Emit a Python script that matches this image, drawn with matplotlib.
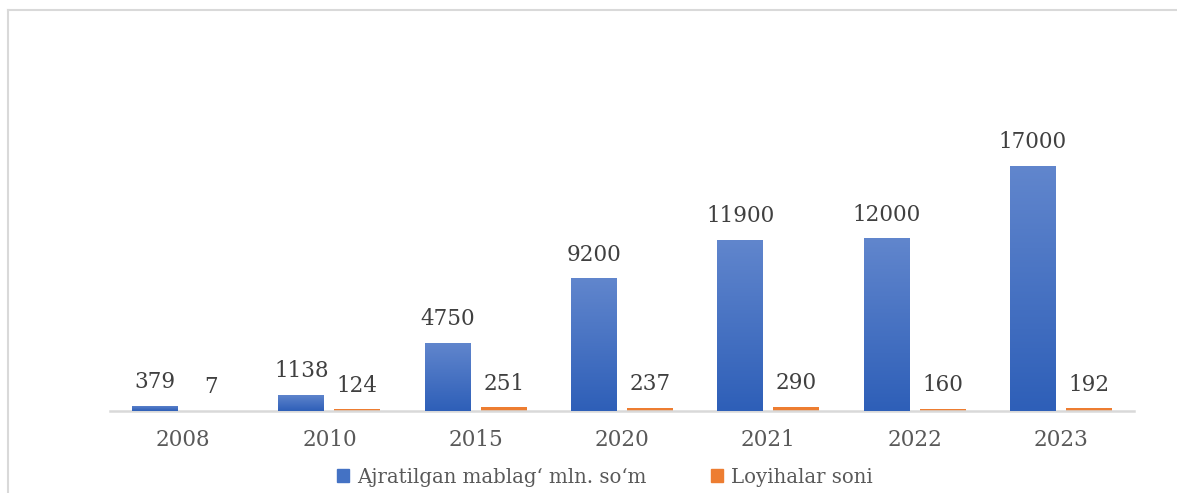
import numpy as np
import matplotlib.pyplot as plt
from matplotlib.lines import Line2D
from matplotlib.colors import LinearSegmentedColormap

years = ['2008', '2010', '2015', '2020', '2021', '2022', '2023']
funds = [379, 1138, 4750, 9200, 11900, 12000, 17000]
projects = [7, 124, 251, 237, 290, 160, 192]
funds_label = 'Ajratilgan mablag‘ mln. so‘m'
projects_label = 'Loyihalar soni'

W, H = 1177, 493
fig = plt.figure(figsize=(W / 100, H / 100), dpi=100)
plt.rcParams['font.family'] = ['DejaVu Serif']

# plot area in pixels: x 110..1134, baseline at y=411
ax = fig.add_axes([110 / W, (H - 411) / H, (1134 - 110) / W, 381 / H])
ymax = 381 * 17000 / 245

x = np.arange(len(years))
bw = 46 / 146.3
off = 28 / 146.3

blue_bars = ax.bar(x - off, funds, bw, color='#4472C4', zorder=2)
orange_bars = ax.bar(x + off, projects, bw, color='#ED7D31', zorder=2)

# vertical gradient on the blue bars
grad = np.linspace(0, 1, 256).reshape(-1, 1)
cmap = LinearSegmentedColormap.from_list('g', ['#2E5FB8', '#6186CD'])
for b in blue_bars:
    im = ax.imshow(grad, cmap=cmap, origin='lower', aspect='auto',
                   extent=[b.get_x(), b.get_x() + b.get_width(), 0, b.get_height()],
                   zorder=3)
    im.set_clip_path(b)
ax.set_xlim(-0.5, len(years) - 0.5)
ax.set_ylim(0, ymax)

txt = '#404040'
for i in range(len(years)):
    ax.annotate(str(funds[i]), (x[i] - off, funds[i]), xytext=(0, 9),
                textcoords='offset points', ha='center', va='bottom',
                fontsize=15.5, color=txt)
    ax.annotate(str(projects[i]), (x[i] + off, projects[i]), xytext=(0, 9),
                textcoords='offset points', ha='center', va='bottom',
                fontsize=15.5, color=txt)

for s in ['top', 'right', 'left']:
    ax.spines[s].set_visible(False)
ax.spines['bottom'].set_color('#d9d9d9')
ax.spines['bottom'].set_linewidth(1.8)
ax.set_yticks([])
ax.set_xticks(x)
ax.set_xticklabels(years, fontsize=15.5, color='#595959')
ax.tick_params(axis='x', length=0, pad=13)

handles = [plt.Rectangle((0, 0), 1, 1, color='#4472C4'),
           plt.Rectangle((0, 0), 1, 1, color='#ED7D31')]
fig.legend(handles, [funds_label, projects_label], loc='center',
           bbox_to_anchor=(605 / W, 1 - 477 / H), ncol=2, frameon=False,
           fontsize=14.2, handlelength=0.6, handleheight=0.6, handletextpad=0.4,
           columnspacing=3.3, labelcolor='#595959')

# chart border (top and left edges visible)
fig.add_artist(Line2D([8 / W, 8 / W], [0, 1 - 10 / H], color='#d9d9d9', lw=1.5))
fig.add_artist(Line2D([8 / W, 1], [1 - 10 / H, 1 - 10 / H], color='#d9d9d9', lw=1.5))

fig.savefig('out.png', dpi=100)
